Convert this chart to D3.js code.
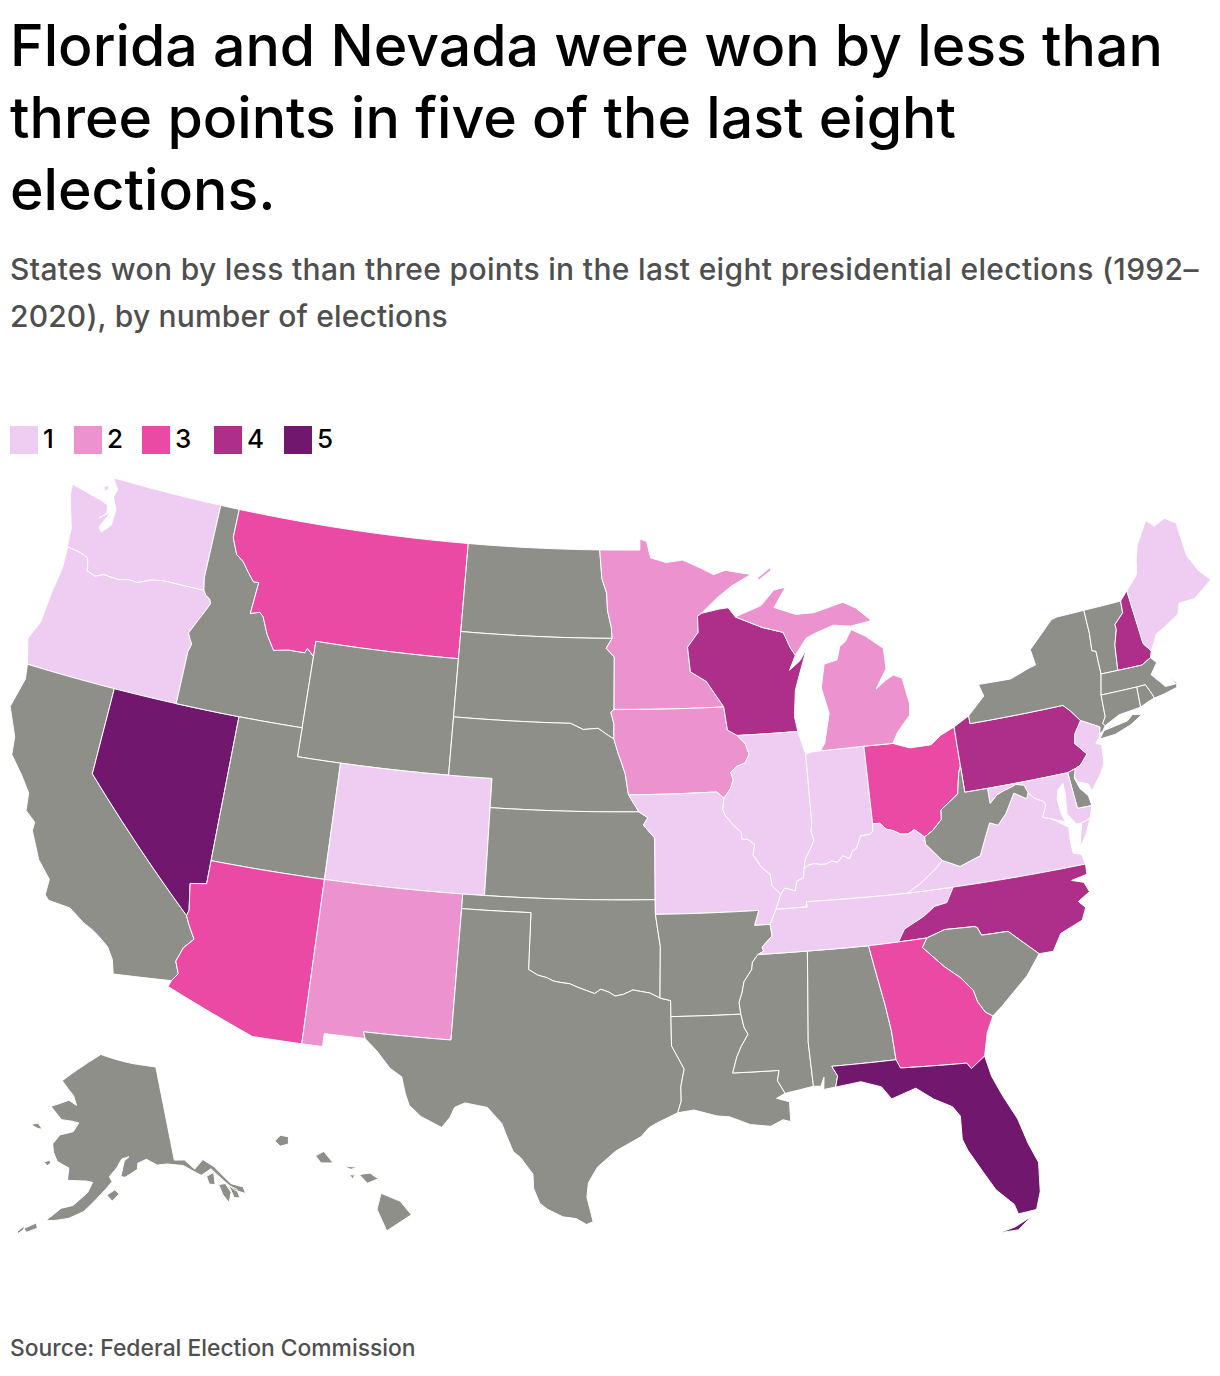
<!DOCTYPE html>
<html>
<head>
<meta charset="utf-8">
<script src="https://cdn.jsdelivr.net/npm/d3@7"></script>
<style>
body { margin: 0; background: #fff; }
svg { display: block; }
text { font-family: Inter, "Noto Sans", sans-serif; }
</style>
</head>
<body>
<svg id="chart" width="1220" height="1376"></svg>
<script>
var titleLines = ["Florida and Nevada were won by less than", "three points in five of the last eight", "elections."];
var subtitleLines = ["States won by less than three points in the last eight presidential elections (1992–", "2020), by number of elections"];
var sourceText = "Source: Federal Election Commission";
var legendValues = [1, 2, 3, 4, 5];
var legendColors = ["#efcdf3", "#eb92cf", "#ea4aa4", "#ad2f8a", "#72176e"];

// number of close elections per state, anything not listed is grey
var onceStates = ["WA", "OR", "CO", "MO", "IL", "IN", "KY", "TN", "VA", "MD", "NJ", "ME"];
var twiceStates = ["NM", "MN", "IA", "MI"];
var threeStates = ["MT", "AZ", "OH", "GA"];
var fourStates = ["WI", "PA", "NH", "NC"];
var fiveStates = ["NV", "FL"];

// shared borders, lon/lat
var columbia = [[-124.0,46.25],[-123.4,46.2],[-123.15,46.15],[-122.9,46.08],[-122.8,45.85],[-122.75,45.65],[-122.3,45.55],[-121.9,45.68],[-121.2,45.65],[-120.65,45.74],[-120.2,45.72],[-119.6,45.92],[-118.98,46.0],[-116.92,46.0]];
var snakeOrId = [[-116.92,46.0],[-116.78,45.85],[-116.55,45.75],[-116.46,45.6],[-116.68,45.25],[-116.85,45.0],[-117.2,44.45],[-117.05,44.25],[-116.93,44.1],[-117.03,43.83],[-117.03,42.0]];
var idMt = [[-116.05,49.0],[-116.05,48.0],[-115.7,47.45],[-115.3,47.25],[-114.95,46.93],[-114.6,46.64],[-114.33,46.65],[-114.45,45.55],[-114.0,45.65],[-113.8,45.52],[-113.45,44.95],[-113.0,44.45],[-112.3,44.55],[-111.5,44.55],[-111.4,44.72],[-111.05,44.47]];
var coastOr = [[-124.0,46.25],[-123.95,45.5],[-124.1,44.6],[-124.2,43.5],[-124.55,42.85],[-124.21,42.0]];
var coastCa = [[-124.21,42.0],[-124.1,41.5],[-124.4,40.45],[-123.8,39.5],[-123.7,38.9],[-123.0,38.3],[-122.5,37.8],[-122.4,37.2],[-121.9,36.9],[-121.9,36.6],[-121.3,35.7],[-120.65,35.15],[-120.65,34.6],[-120.45,34.45],[-119.5,34.38],[-118.8,34.0],[-118.4,33.85],[-118.1,33.7],[-117.6,33.4],[-117.28,33.0],[-117.12,32.53],[-114.72,32.72]];
var caAz = [[-114.72,32.72],[-114.5,33.0],[-114.7,33.4],[-114.5,33.9],[-114.13,34.26],[-114.45,34.7],[-114.63,35.0]];
var nvAz = [[-114.63,35.0],[-114.57,35.2],[-114.75,36.1],[-114.05,36.2],[-114.05,37.0]];
var redRiverN = [[-97.23,49.0],[-97.1,48.0],[-96.85,47.5],[-96.8,46.9],[-96.6,46.3],[-96.56,45.94]];
var mnSd = [[-96.56,45.94],[-96.85,45.6],[-96.45,45.3],[-96.45,43.5]];
var bigSioux = [[-96.45,43.5],[-96.6,43.4],[-96.45,43.0],[-96.45,42.49]];
var neSd = [[-96.45,42.49],[-96.7,42.6],[-97.2,42.85],[-97.9,42.8],[-98.5,43.0],[-104.05,43.0]];
var neIa = [[-96.45,42.49],[-96.25,42.0],[-96.1,41.7],[-95.92,41.3],[-95.85,40.95],[-95.77,40.58]];
var neMo = [[-95.77,40.58],[-95.3,40.0]];
var ksMo = [[-95.3,40.0],[-94.9,39.8],[-95.1,39.55],[-94.6,39.1],[-94.62,37.0]];
var okAr = [[-94.62,36.5],[-94.43,35.4],[-94.48,33.64]];
var redRiverS = [[-94.48,33.64],[-94.9,33.82],[-95.3,33.88],[-95.6,33.93],[-96.0,33.78],[-96.35,33.72],[-96.6,33.85],[-96.95,33.95],[-97.2,33.8],[-97.55,33.9],[-97.9,34.0],[-98.25,34.12],[-98.6,34.15],[-98.95,34.2],[-99.2,34.3],[-99.6,34.38],[-100.0,34.56]];
var txAr = [[-94.48,33.64],[-94.04,33.55],[-94.04,33.0]];
var txLa = [[-94.04,33.0],[-94.04,32.0],[-93.55,31.2],[-93.7,30.6],[-93.7,30.1],[-93.85,29.7]];
var mnWi = [[-92.1,46.75],[-92.3,46.66],[-92.3,46.1],[-92.85,45.6],[-92.75,44.75],[-92.0,44.4],[-91.22,43.5]];
var wiIa = [[-91.22,43.5],[-91.1,42.7],[-90.65,42.5]];
var ilIa = [[-90.65,42.5],[-90.3,42.2],[-90.15,41.85],[-90.35,41.55],[-90.75,41.45],[-91.05,41.25],[-90.95,41.0],[-91.1,40.7],[-91.42,40.38]];
var ilMo = [[-91.42,40.38],[-91.5,40.0],[-91.4,39.8],[-91.05,39.45],[-90.72,39.2],[-90.7,38.95],[-90.45,38.95],[-90.15,38.75],[-90.25,38.4],[-89.9,37.95],[-89.55,37.7],[-89.5,37.3],[-89.15,37.0]];
var moKy = [[-89.15,37.0],[-89.4,36.5]];
var moTn = [[-89.4,36.5],[-89.7,36.0]];
var moAr = [[-94.62,36.5],[-90.15,36.5],[-90.37,36.0],[-89.7,36.0]];
var arTn = [[-89.7,36.0],[-89.65,35.6],[-90.1,35.25],[-90.05,35.1],[-90.3,35.0]];
var arMs = [[-90.3,35.0],[-90.55,34.75],[-90.6,34.5],[-90.95,34.1],[-91.05,33.75],[-91.2,33.4],[-91.15,33.0]];
var laMs = [[-91.15,33.0],[-91.05,32.55],[-90.9,32.3],[-91.2,31.9],[-91.4,31.55],[-91.6,31.0],[-89.73,31.0],[-89.82,30.65],[-89.55,30.2]];
var ilKy = [[-89.15,37.0],[-88.95,37.2],[-88.5,37.07],[-88.42,37.4],[-88.1,37.5],[-88.05,37.8]];
var inKy = [[-88.05,37.8],[-87.9,37.9],[-87.6,37.95],[-87.3,37.9],[-87.05,37.9],[-86.8,37.98],[-86.55,37.92],[-86.3,38.12],[-86.0,38.0],[-85.85,38.25],[-85.65,38.33],[-85.42,38.73],[-85.0,38.75],[-84.85,38.85],[-84.82,39.1]];
var ohKy = [[-84.82,39.1],[-84.5,39.08],[-84.23,38.85],[-83.95,38.78],[-83.65,38.63],[-83.3,38.6],[-83.0,38.72],[-82.85,38.6],[-82.6,38.42]];
var kyWv = [[-82.6,38.42],[-82.6,38.17],[-81.97,37.54]];
var ohWv = [[-82.6,38.42],[-82.2,38.6],[-81.75,38.93],[-81.7,39.25],[-80.85,39.7],[-80.65,40.4],[-80.52,40.64]];
var kyVa = [[-81.97,37.54],[-82.3,37.3],[-83.1,36.85],[-83.68,36.6]];
var wabash = [[-87.53,39.35],[-87.6,39.05],[-87.5,38.75],[-87.7,38.45],[-87.95,38.15],[-88.05,37.8]];
var vaWv = [[-81.97,37.54],[-81.25,37.25],[-80.3,37.5],[-80.0,38.0],[-79.65,38.55],[-79.3,38.42],[-78.87,38.76],[-78.35,39.4],[-77.83,39.13],[-77.72,39.32]];
var mdWv = [[-79.48,39.2],[-79.1,39.45],[-78.75,39.55],[-78.4,39.62],[-78.2,39.68],[-77.83,39.6],[-77.72,39.32]];
var potomac = [[-77.72,39.32],[-77.5,39.1],[-77.12,38.93],[-77.05,38.8],[-77.3,38.4],[-76.95,38.3]];
var tnKy = [[-89.4,36.5],[-88.05,36.5],[-88.07,36.68],[-83.68,36.6]];
var tnVa = [[-83.68,36.6],[-81.68,36.59]];
var tnNc = [[-81.68,36.59],[-82.05,36.1],[-82.6,36.03],[-83.1,35.75],[-84.0,35.4],[-84.32,34.99]];
var ncVa = [[-81.68,36.59],[-75.87,36.55]];
var ncSc = [[-78.55,33.86],[-79.67,34.8],[-80.8,34.82],[-80.93,35.1],[-81.05,35.15],[-82.3,35.2],[-83.11,35.0]];
var scGa = [[-80.87,32.03],[-81.15,32.2],[-81.4,32.6],[-81.5,33.0],[-81.95,33.5],[-82.55,33.95],[-83.35,34.7],[-83.11,35.0]];
var gaAl = [[-85.0,31.0],[-85.05,32.0],[-85.18,32.87],[-85.6,34.98]];
var gaFl = [[-81.45,30.72],[-82.05,30.36],[-82.2,30.57],[-84.86,30.7],[-85.0,31.0]];
var alFl = [[-85.0,31.0],[-87.6,31.0],[-87.4,30.65],[-87.52,30.28]];
var alMs = [[-88.4,30.37],[-88.47,31.9],[-88.2,35.0]];
var eastFl = [[-81.45,30.72],[-81.3,30.0],[-81.0,29.3],[-80.55,28.4],[-80.3,27.5],[-80.03,26.8],[-80.15,25.8],[-80.4,25.2]];
var paDelaware = [[-75.35,42.0],[-75.05,41.75],[-74.7,41.36]];
var paNj = [[-74.7,41.36],[-75.1,40.95],[-75.2,40.65],[-74.75,40.2],[-75.15,39.88],[-75.42,39.8]];
var nyVt = [[-73.35,45.01],[-73.35,44.2],[-73.43,43.6],[-73.25,43.55],[-73.27,42.75]];
var nyMa = [[-73.27,42.75],[-73.5,42.05]];
var nyCt = [[-73.5,42.05],[-73.55,41.3],[-73.73,41.1],[-73.65,41.0]];
var vtNh = [[-71.5,45.01],[-71.55,44.6],[-72.05,44.28],[-72.05,44.1],[-72.3,43.6],[-72.46,42.73]];
var nhMe = [[-71.08,45.3],[-70.98,43.4],[-70.7,43.08]];
var nhMa = [[-72.46,42.73],[-71.3,42.7],[-70.82,42.87]];
var maRi = [[-71.13,41.5],[-71.2,41.67],[-71.38,42.02],[-71.8,42.02]];
var ctRi = [[-71.8,42.02],[-71.86,41.32]];
var lakeMiWest = [[-87.8,42.49],[-87.53,41.7]];
var wiMi = [[-90.42,46.57],[-89.1,46.14],[-88.1,45.92],[-87.8,45.35],[-87.6,45.1]];

function rev(a) { return a.slice().reverse(); }
function ring() { return [].concat.apply([], arguments); }

// each state is a list of rings, first one is the mainland
var WA = [ring([[-122.76,49.0],[-122.39,48.63],[-122.5,48.36],[-122.2,47.95],[-122.21,47.4],[-122.6,47.07],[-122.78,47.22],[-122.41,47.83],[-122.91,47.52],[-122.59,47.76],[-122.66,48.03],[-123.08,48.13],[-124.7,48.38],[-124.65,48.0],[-124.1,46.9],[-124.05,46.4]], columbia, [[-117.04,46.42],[-117.03,49.0]]),
  [[-123.1,48.62],[-122.9,48.7],[-122.85,48.55],[-123.05,48.48]]];
var OR = [ring(coastOr, [[-117.03,42.0]], rev(snakeOrId), rev(columbia))];
var CA = [ring(coastCa, caAz, [[-120.0,39.0],[-120.0,42.0]])];
var NV = [ring([[-120.0,42.0],[-120.0,39.0]], [[-114.63,35.0]], nvAz, [[-114.04,42.0]])];
var ID = [ring([[-117.03,49.0],[-117.04,46.42]], snakeOrId, [[-114.04,42.0],[-111.05,42.0]], rev(idMt))];
var MT = [ring(idMt, [[-111.05,45.0],[-104.05,45.0],[-104.05,49.0]])];
var WY = [[[-111.05,45.0],[-104.05,45.0],[-104.05,41.0],[-111.05,41.0]]];
var UT = [[[-114.05,37.0],[-114.04,42.0],[-111.05,42.0],[-111.05,41.0],[-109.05,41.0],[-109.05,37.0]]];
var CO = [[[-109.05,41.0],[-102.05,41.0],[-102.05,37.0],[-109.05,37.0]]];
var AZ = [ring([[-114.05,37.0],[-109.05,37.0],[-109.05,31.33],[-111.07,31.33],[-114.81,32.5]], caAz, nvAz)];
var NM = [[[-109.05,37.0],[-103.0,37.0],[-103.04,32.0],[-106.62,32.0],[-106.53,31.78],[-108.2,31.78],[-108.2,31.33],[-109.05,31.33]]];
var ND = [ring([[-104.05,49.0]], redRiverN, [[-104.05,45.94]])];
var SD = [ring([[-104.05,45.94]], mnSd, bigSioux, neSd)];
var NE = [ring(rev(neSd), neIa, neMo, [[-102.05,40.0],[-102.05,41.0],[-104.05,41.0]])];
var KS = [ring([[-102.05,40.0]], ksMo, [[-102.05,37.0]])];
var OK = [ring([[-103.0,37.0],[-94.62,37.0]], okAr, redRiverS, [[-100.0,36.5],[-103.0,36.5]])];
var TX = [ring([[-103.0,36.5],[-100.0,36.5]], rev(redRiverS), txAr, txLa, [[-94.7,29.35],[-95.0,29.2],[-95.3,28.9],[-96.3,28.4],[-97.0,27.85],[-97.35,27.3],[-97.4,26.8],[-97.15,25.95],[-97.4,25.85],[-97.8,26.05],[-98.3,26.1],[-98.9,26.35],[-99.2,26.55],[-99.45,27.05],[-99.5,27.55],[-100.0,28.1],[-100.3,28.3],[-100.65,28.95],[-100.8,29.25],[-101.4,29.77],[-102.3,29.88],[-102.7,29.7],[-102.85,29.35],[-103.15,28.98],[-104.0,29.3],[-104.5,29.65],[-104.7,30.05],[-104.9,30.6],[-105.4,30.85],[-106.0,31.4],[-106.53,31.78],[-106.62,32.0],[-103.04,32.0]])];
var MN = [ring([[-97.23,49.0],[-95.15,49.0],[-95.15,49.38],[-94.8,49.3],[-94.6,48.72],[-93.8,48.55],[-92.95,48.62],[-92.0,48.3],[-91.4,48.07],[-90.8,48.2],[-89.5,48.0],[-90.5,47.65],[-91.3,47.25]], mnWi, rev(mnSd), rev(redRiverN))];
var IA = [ring([[-96.45,43.5]], [[-91.22,43.5]], wiIa, ilIa, [[-91.73,40.61]], rev(neIa), rev(bigSioux))];
var MO = [ring(neMo, ksMo, [[-94.62,36.5]], moAr, rev(moTn), rev(moKy), rev(ilMo), [[-91.73,40.61]])];
var AR = [ring(moAr, arTn, arMs, [[-94.04,33.0]], rev(txAr), rev(okAr))];
var LA = [ring(laMs, [[-89.9,30.05],[-89.4,29.9],[-89.4,29.2],[-89.0,29.1],[-89.7,29.3],[-90.2,29.1],[-91.0,29.2],[-91.8,29.5],[-92.3,29.55],[-93.2,29.78]], rev(txLa))];
var MS = [ring([[-88.2,35.0],[-90.3,35.0]], arMs, laMs, alMs)];
var AL = [ring(rev(gaAl), alFl, [[-88.0,30.23],[-87.95,30.65],[-88.1,30.35]], alMs)];
var WI = [ring([[-92.1,46.75],[-91.2,46.87],[-90.75,46.9]], wiMi, [[-87.95,44.6],[-87.4,44.9],[-87.05,45.25],[-87.5,44.4],[-87.75,43.9],[-87.9,43.0]], [[-87.8,42.49]], [[-90.65,42.5]], rev(wiIa), rev(mnWi))];
var IL = [ring([[-90.65,42.5],[-87.8,42.49]], lakeMiWest, wabash, rev(ilKy), rev(ilMo), rev(ilIa))];
var IN = [ring([[-87.53,41.7],[-87.2,41.75],[-86.82,41.76],[-84.8,41.76]], [[-84.82,39.1]], rev(inKy), rev(wabash))];
var OH = [ring([[-84.8,41.76],[-83.45,41.73],[-82.7,41.5],[-81.7,41.5],[-81.2,41.77],[-80.52,41.98]], rev(ohWv), rev(ohKy))];
var KY = [ring(ilKy, inKy, ohKy, kyWv, kyVa, rev(tnKy), rev(moKy))];
var TN = [ring(tnKy, tnVa, tnNc, [[-85.6,34.98],[-88.2,35.0],[-90.3,35.0]], rev(arTn), rev(moTn))];
var MI = [ring([[-86.82,41.76],[-84.8,41.76],[-83.45,41.73],[-83.15,42.1],[-82.5,42.6],[-82.42,43.0],[-82.6,43.9],[-83.0,44.05],[-83.4,43.9],[-83.9,43.65],[-83.3,44.3],[-83.3,45.0],[-84.1,45.5],[-84.75,45.78],[-85.1,45.4],[-85.4,45.25],[-85.6,44.8],[-86.25,44.7],[-86.5,43.9],[-86.25,43.0],[-86.6,42.0]]),
  ring([[-90.42,46.57],[-89.1,46.9],[-88.4,47.4],[-87.8,47.47],[-88.45,46.8],[-87.4,46.5],[-86.5,46.5],[-85.0,46.75],[-84.4,46.5],[-83.7,46.0],[-84.75,45.9],[-85.6,46.0],[-86.5,45.8],[-87.0,45.65]], rev(wiMi)),
  [[-89.2,47.85],[-88.5,48.18],[-88.45,48.1],[-89.1,47.8]]];
var PA = [ring([[-80.52,41.98],[-79.76,42.27],[-79.76,42.0]], paDelaware, paNj, [[-75.79,39.72],[-80.52,39.72],[-80.52,40.64]])];
var NY = [ring([[-79.76,42.0],[-79.76,42.27],[-78.9,42.85],[-79.05,43.27],[-77.5,43.25],[-76.5,43.5],[-76.2,43.55],[-76.3,44.1],[-75.0,44.95],[-74.7,45.0]], nyVt, nyMa, nyCt, [[-73.8,40.85],[-73.93,40.8],[-74.0,40.7],[-73.9,41.0]], rev(paDelaware)),
  [[-74.03,40.6],[-73.75,40.85],[-72.6,40.98],[-72.3,41.15],[-71.87,41.07],[-72.5,40.82],[-73.3,40.63]]];
var NJ = [ring(paNj, [[-75.55,39.6],[-75.45,39.35],[-75.0,39.2],[-74.9,38.93],[-74.4,39.4],[-74.1,39.75],[-74.0,40.4],[-74.25,40.48],[-74.05,40.65],[-73.9,41.0]])];
var DE = [[[-75.79,39.72],[-75.42,39.8],[-75.55,39.5],[-75.4,39.1],[-75.1,38.8],[-75.05,38.45],[-75.7,38.46]]];
var DC = [[[-77.12,38.93],[-77.04,39.0],[-76.91,38.89],[-77.04,38.79]]];
var MD = [ring([[-79.48,39.72],[-75.79,39.72],[-75.7,38.46],[-75.05,38.45],[-75.25,38.03],[-75.65,37.95],[-75.9,37.95],[-76.2,38.35],[-76.1,39.0],[-76.1,39.4],[-76.4,39.2],[-76.5,38.9],[-76.45,38.4],[-76.35,38.1]], rev(potomac), rev(mdWv))];
var VA = [ring(tnVa, ncVa, [[-75.95,36.9],[-76.3,37.0],[-76.3,37.5],[-76.25,37.9]], rev(potomac), rev(vaWv), kyVa),
  [[-75.95,37.15],[-75.65,37.95],[-75.25,38.03],[-75.6,37.5]]];
var WV = [ring(ohWv, [[-80.52,39.72],[-79.48,39.72]], mdWv, rev(vaWv), rev(kyWv))];
var NC = [ring(rev(tnNc), ncVa, [[-75.9,36.2],[-76.6,36.1],[-76.1,35.95],[-75.95,35.6],[-76.5,35.35],[-76.25,35.1],[-76.5,34.7],[-77.5,34.4],[-77.95,33.85]], ncSc)];
var SC = [ring(rev(ncSc), [[-79.2,33.2],[-79.9,32.7],[-80.45,32.3]], scGa)];
var GA = [ring(gaAl, [[-84.32,34.99],[-83.11,35.0]], rev(scGa), [[-81.2,31.5]], gaFl)];
var FL = [ring(rev(alFl), rev(gaFl), eastFl, [[-81.1,25.15],[-81.2,25.5],[-81.8,26.1],[-82.2,26.8],[-82.65,27.6],[-82.8,28.0],[-82.75,28.8],[-83.0,29.15],[-83.7,29.5],[-84.35,29.95],[-85.35,29.68],[-85.7,30.13],[-86.5,30.38]]),
  [[-81.9,24.6],[-81.3,24.72],[-80.6,25.0],[-81.2,24.6]]];
var VT = [ring(rev(nyVt), vtNh)];
var NH = [ring(vtNh, nhMa, rev(nhMe))];
var ME = [ring(nhMe, [[-70.25,43.6],[-69.8,43.75],[-69.0,44.05],[-68.8,44.4],[-68.0,44.4],[-67.0,44.85],[-67.45,45.3],[-67.78,45.9],[-67.8,47.07],[-68.3,47.35],[-68.9,47.18],[-69.23,47.46],[-70.0,46.7],[-70.25,46.2],[-70.4,45.75]])];
var MA = [ring(rev(nyMa), nhMa, [[-70.6,42.65],[-71.0,42.3],[-70.65,41.95],[-70.5,41.78],[-70.0,41.78],[-70.2,42.07],[-69.95,41.8],[-70.0,41.65],[-70.65,41.55]], maRi, [[-73.5,42.05]])];
var RI = [ring(rev(maRi), [[-71.4,41.45],[-71.86,41.32]])];
var CT = [ring([[-73.5,42.05],[-71.8,42.02]], ctRi, [[-72.9,41.25]], rev(nyCt))];
var AK = [[[-141.0,69.65],[-141.0,60.3],[-139.0,60.1],[-137.5,59.0],[-135.5,59.7],[-133.8,58.7],[-131.8,56.6],[-130.0,55.9],[-130.0,55.2],[-131.6,55.9],[-133.2,57.4],[-134.5,58.6],[-136.6,58.25],[-139.5,59.6],[-142.5,60.05],[-144.5,60.1],[-146.5,60.8],[-148.3,60.5],[-148.5,59.9],[-151.0,59.2],[-151.8,59.3],[-151.0,60.8],[-150.0,61.2],[-151.5,61.0],[-152.5,60.2],[-154.0,59.3],[-153.5,58.8],[-156.5,57.0],[-158.5,55.8],[-161.0,55.0],[-163.5,54.6],[-164.8,54.5],[-162.5,55.9],[-160.5,56.3],[-158.0,57.7],[-157.2,58.7],[-158.5,58.8],[-162.0,58.7],[-162.0,59.9],[-164.5,60.4],[-165.5,61.2],[-166.0,62.0],[-164.8,63.0],[-162.0,63.5],[-161.0,64.4],[-162.5,64.5],[-165.0,64.5],[-168.0,65.6],[-164.0,66.5],[-162.0,66.1],[-163.0,67.0],[-166.5,68.3],[-165.0,68.9],[-163.0,69.6],[-160.0,70.5],[-156.6,71.35],[-152.0,70.85],[-148.0,70.4],[-144.0,70.0]],
  [[-154.5,57.5],[-153.0,58.0],[-152.2,57.6],[-153.5,56.9]],
  [[-171.5,63.4],[-170,63.7],[-168.8,63.2],[-170,63.2]],
  [[-167.0,60.1],[-166.0,60.4],[-165.7,60.1],[-166.3,59.8]],
  [[-135.7,58.0],[-134.2,58.2],[-134.6,57.0],[-135.6,57.2]],
  [[-134.0,56.9],[-132.8,56.8],[-132.3,55.8],[-133.2,54.9],[-133.8,55.8]],
  [[-132.3,56.5],[-131.2,55.9],[-131.2,55.0],[-132.1,55.2]],
  [[-168.2,53.3],[-166.3,54.1],[-166.0,53.6],[-167.6,53.0]],
  [[-169.2,52.8],[-168.3,53.5],[-168.0,53.3],[-168.8,52.75]],
  [[-176.5,52.0],[-174.2,52.5],[-173.8,52.1],[-175.5,51.8]]];
var HI = [[[-155.9,20.25],[-155.2,19.97],[-154.8,19.5],[-155.7,18.95],[-156.05,19.7]],
  [[-156.7,20.9],[-156.3,20.95],[-156.0,20.75],[-156.4,20.6]],
  [[-157.3,21.2],[-156.75,21.15],[-157.0,21.08]],
  [[-157.05,20.9],[-156.85,20.88],[-156.95,20.75]],
  [[-158.3,21.55],[-158.0,21.7],[-157.65,21.3],[-158.1,21.3]],
  [[-159.8,22.05],[-159.6,22.25],[-159.3,22.2],[-159.3,21.95],[-159.6,21.87]]];

var stateNames = ["WA","OR","CA","NV","ID","MT","WY","UT","CO","AZ","NM","ND","SD","NE","KS","OK","TX","MN","IA","MO","AR","LA","MS","AL","WI","IL","IN","OH","KY","TN","MI","PA","NY","NJ","DE","DC","MD","VA","WV","NC","SC","GA","FL","VT","NH","ME","MA","RI","CT","AK","HI"];
var stateRings = [WA,OR,CA,NV,ID,MT,WY,UT,CO,AZ,NM,ND,SD,NE,KS,OK,TX,MN,IA,MO,AR,LA,MS,AL,WI,IL,IN,OH,KY,TN,MI,PA,NY,NJ,DE,DC,MD,VA,WV,NC,SC,GA,FL,VT,NH,ME,MA,RI,CT,AK,HI];

var svg = d3.select("#chart");

function closeElections(name) {
    if (onceStates.includes(name)) return 1;
    if (twiceStates.includes(name)) return 2;
    if (threeStates.includes(name)) return 3;
    if (fourStates.includes(name)) return 4;
    if (fiveStates.includes(name)) return 5;
    return 0;
}

var color = d3.scaleOrdinal().domain(legendValues).range(legendColors).unknown("#8f8f8a");

// long straight borders follow the parallels, so add points along them
function densify(points) {
    var out = [];
    points.forEach(function(p, i) {
        var q = points[(i + 1) % points.length];
        var steps = Math.max(Math.ceil(Math.max(Math.abs(q[0] - p[0]), Math.abs(q[1] - p[1]))), 1);
        for (var k = 0; k < steps; k++) {
            out.push([p[0] + (q[0] - p[0]) * k / steps, p[1] + (q[1] - p[1]) * k / steps]);
        }
    });
    out.push(out[0]);
    // d3 wants clockwise rings
    if (d3.geoArea({type: "Polygon", coordinates: [out]}) > 2 * Math.PI) out.reverse();
    return out;
}

var features = stateNames.map(function(name, i) {
    return {
        type: "Feature",
        id: name,
        geometry: {type: "MultiPolygon", coordinates: stateRings[i].map(function(r) { return [densify(r)]; })}
    };
});

var projection = d3.geoAlbersUsa().scale(1665).translate([610, 850]);
var path = d3.geoPath(projection);

svg.append("g").selectAll("path")
    .data(features)
    .join("path")
    .attr("d", path)
    .attr("fill", function(d) { return color(closeElections(d.id)); })
    .attr("stroke", "#fff")
    .attr("stroke-width", 1)
    .attr("stroke-linejoin", "round");

// headline
svg.append("g").selectAll("text")
    .data(titleLines)
    .join("text")
    .attr("x", 10)
    .attr("y", function(d, i) { return 66 + i * 72; })
    .attr("font-size", 57.2)
    .attr("font-weight", 500)
    .attr("fill", "#000")
    .text(function(d) { return d; });

svg.append("g").selectAll("text")
    .data(subtitleLines)
    .join("text")
    .attr("x", 10)
    .attr("y", function(d, i) { return 280 + i * 47; })
    .attr("font-size", 30)
    .attr("font-weight", 500)
    .attr("letter-spacing", function(d, i) { return i == 0 ? 0.33 : 0.17; })
    .attr("fill", "#4f4f4f")
    .text(function(d) { return d; });

var legendX = d3.scaleOrdinal().domain(legendValues).range([10, 74, 142, 214, 284]);
var legend = svg.append("g").selectAll("g")
    .data(legendValues)
    .join("g")
    .attr("transform", function(d) { return "translate(" + legendX(d) + ",426)"; });
legend.append("rect").attr("width", 28).attr("height", 28).attr("fill", function(d) { return color(d); });
legend.append("text").attr("x", 33).attr("y", 22).attr("font-size", 26).attr("font-weight", 500).attr("fill", "#000").text(function(d) { return d; });

svg.append("text")
    .attr("x", 10)
    .attr("y", 1356)
    .attr("font-size", 22.85)
    .attr("font-weight", 500)
    .attr("fill", "#4f4f4f")
    .text(sourceText);
</script>
</body>
</html>
